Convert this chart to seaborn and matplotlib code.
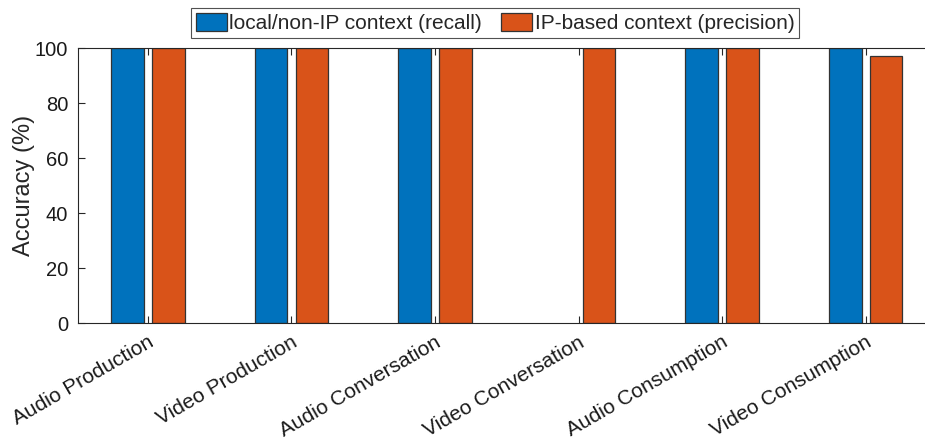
import numpy as np
import pandas as pd
import matplotlib
matplotlib.use("Agg")
import matplotlib.pyplot as plt
import seaborn as sns

categories = ["Audio Production", "Video Production", "Audio Conversation",
              "Video Conversation", "Audio Consumption", "Video Consumption"]
series_names = ["local/non-IP context (recall)", "IP-based context (precision)"]
recall = [100, 100, 100, np.nan, 100, 100]
precision = [100, 100, 100, 100, 100, 97]
yticks = [0, 20, 40, 60, 80, 100]
colors = ["#0072BD", "#D95319"]

rows = []
for c, r, p in zip(categories, recall, precision):
    rows.append({"cat": c, "series": series_names[0], "val": r})
    rows.append({"cat": c, "series": series_names[1], "val": p})
df = pd.DataFrame(rows).dropna()

sns.set_theme(style="white")
plt.rcParams["font.family"] = ["Liberation Sans", "DejaVu Sans"]

fig = plt.figure(figsize=(9.25, 4.4), dpi=100)
ax = fig.add_axes([78/925, 1 - 323/440, (936 - 78)/925, (323 - 48)/440])

sns.barplot(data=df, x="cat", y="val", hue="series", order=categories,
            hue_order=series_names, palette=colors, width=0.57, gap=0.2,
            edgecolor="#333333", linewidth=0.9, saturation=1, ax=ax,
            errorbar=None)

ax.set_xlim(-0.487, 5.49)
ax.set_ylim(0, 100)
ax.set_yticks(yticks)
ax.set_yticklabels([str(v) for v in yticks], fontsize=14.5)
ax.set_xticks(range(len(categories)))
ax.set_xticklabels(categories, rotation=30, ha="right", rotation_mode="anchor",
                   fontsize=15)
ax.set_xlabel("")
ax.set_ylabel("Accuracy (%)", fontsize=17)
ax.yaxis.set_label_coords(-0.05, 0.5)
for s in ax.spines.values():
    s.set_color("#262626")
    s.set_linewidth(0.8)
ax.tick_params(axis="both", direction="in", length=5, width=0.8, color="#262626",
               top=True, right=True, bottom=True, left=True, labelcolor="#1a1a1a")
ax.tick_params(axis="x", pad=7)
ax.tick_params(axis="y", pad=7)

handles, labels = ax.get_legend_handles_labels()
leg = ax.legend(handles, labels, loc="center", bbox_to_anchor=(495/925, 1 - 23/440),
                bbox_transform=fig.transFigure, ncol=2, fontsize=15,
                frameon=True, fancybox=False, edgecolor="#262626",
                handlelength=1.5, handleheight=0.95, handletextpad=0.12,
                columnspacing=0.9, borderpad=0.22, borderaxespad=0)
leg.get_frame().set_linewidth(0.8)

fig.savefig("out.png", dpi=100)
